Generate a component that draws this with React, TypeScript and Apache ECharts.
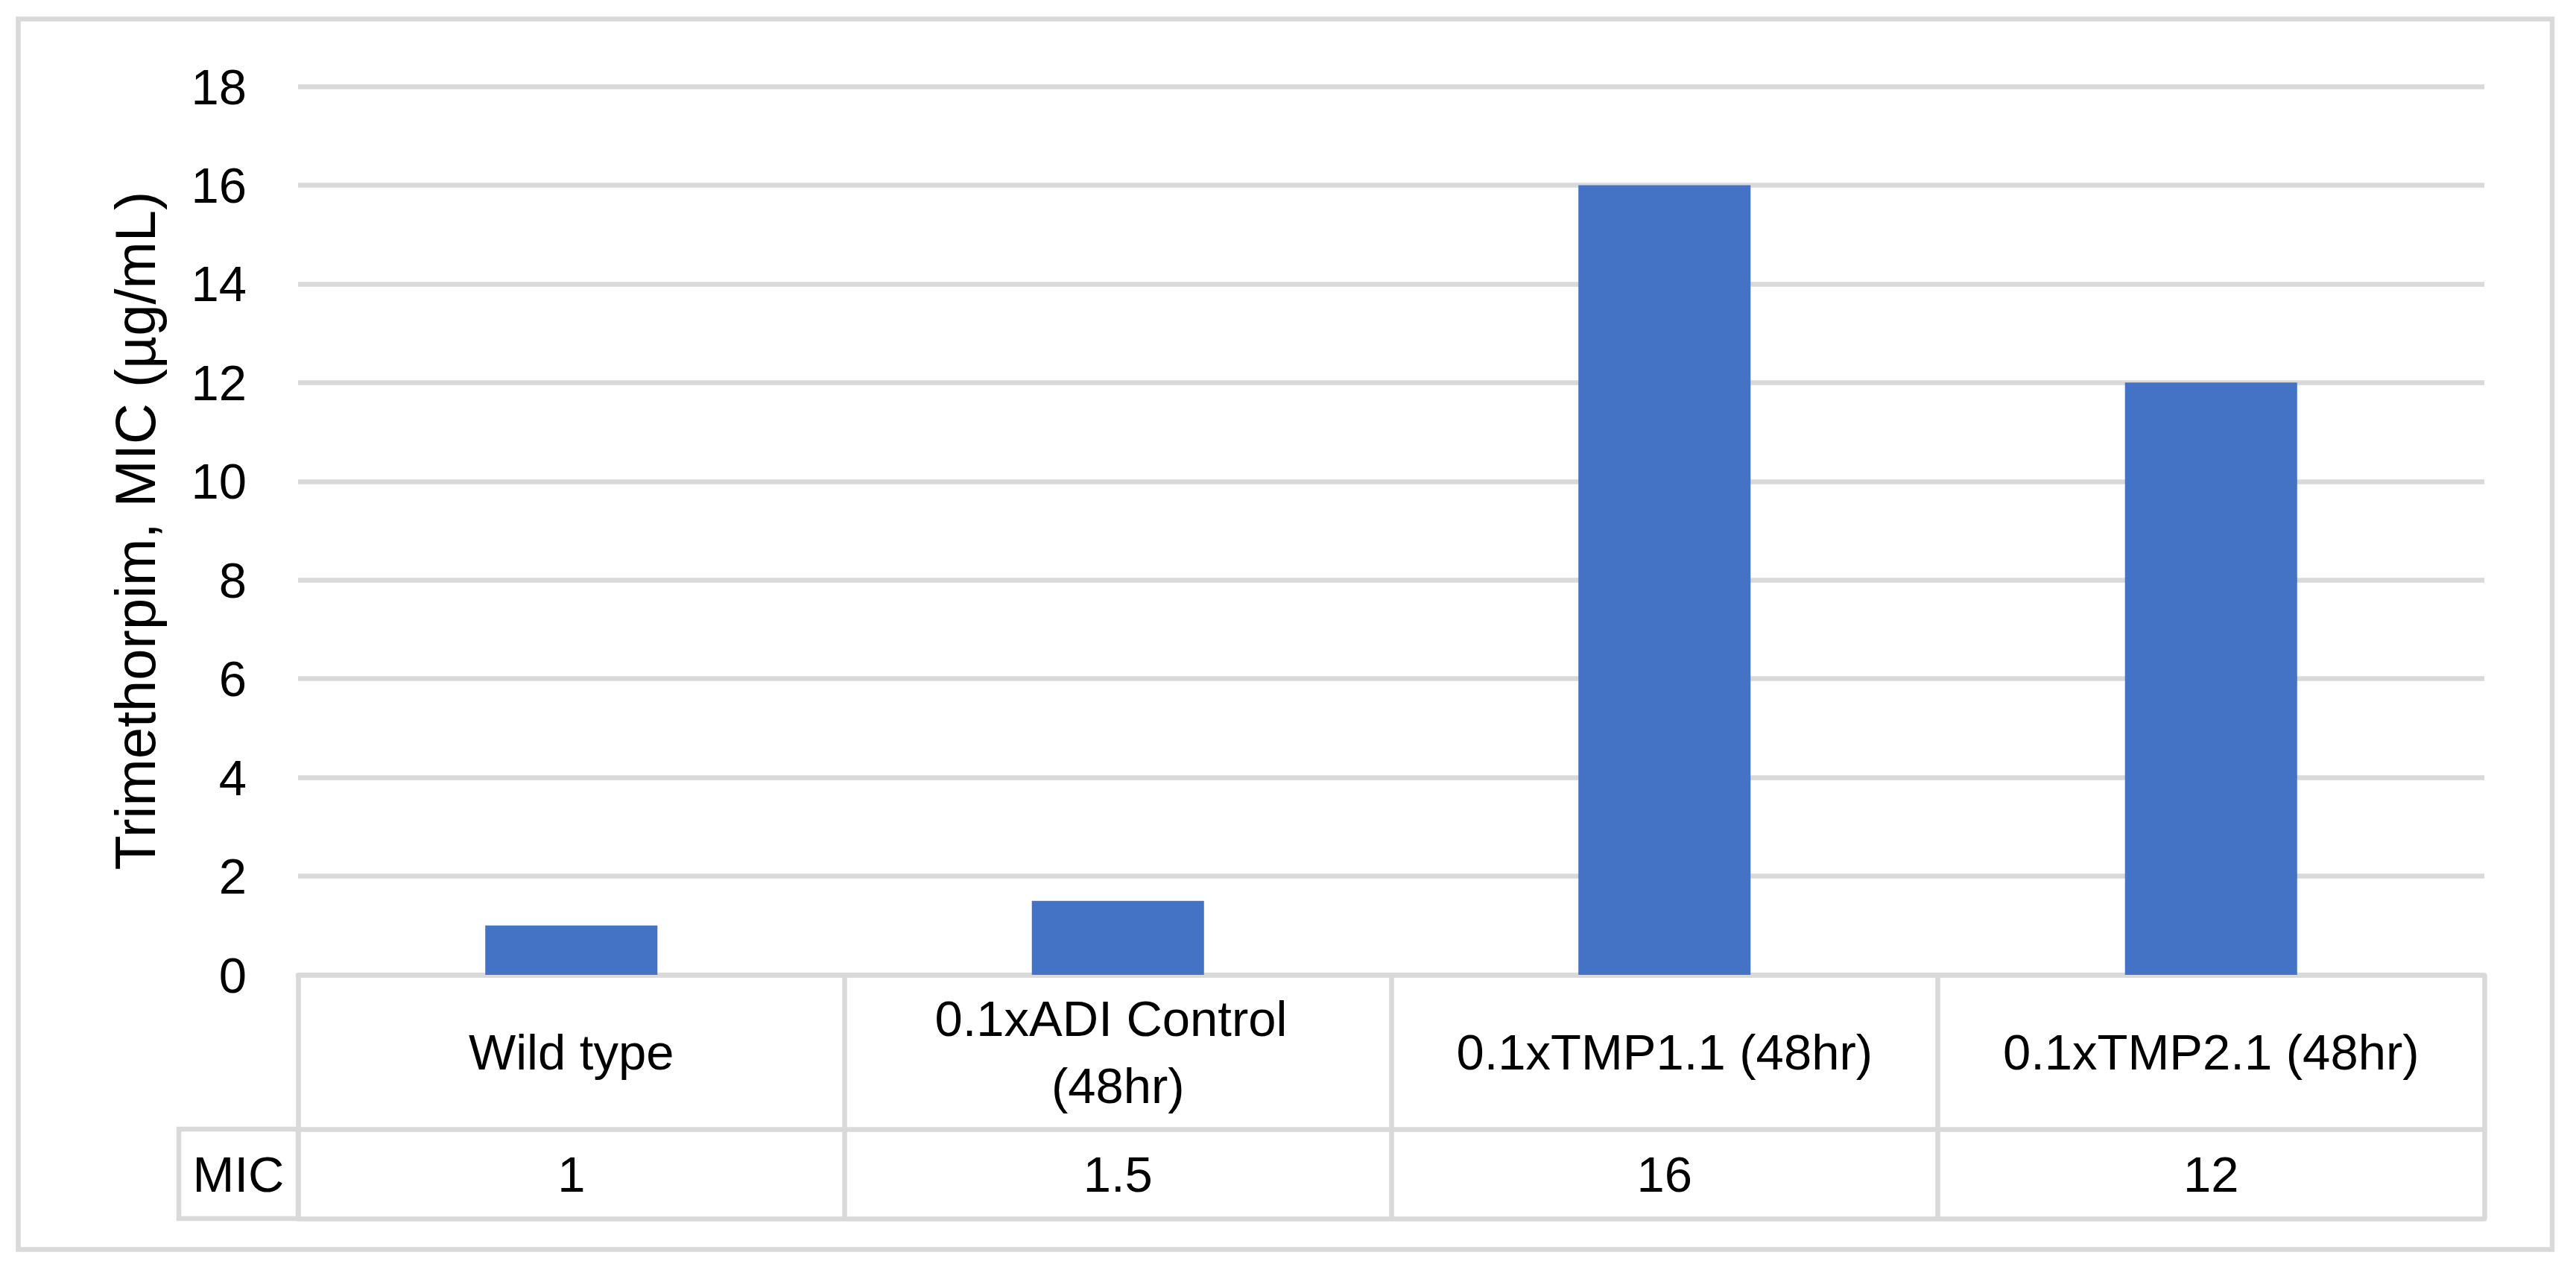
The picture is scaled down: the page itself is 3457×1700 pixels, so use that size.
import React, { useEffect, useRef } from "react";
import * as echarts from "echarts";

const categories = ["Wild type", "0.1xADI Control (48hr)", "0.1xTMP1.1 (48hr)", "0.1xTMP2.1 (48hr)"];
const micValues = [1, 1.5, 16, 12];
const yTicks = { min: 0, max: 18, interval: 2 };
const rowLabel = "MIC";
const yTitle = "Trimethorpim, MIC (µg/mL)";

const W = 3457;
const H = 1700;
const FONT = "'Liberation Sans', Arial, sans-serif";
const GRID = { left: 400, top: 116, right: 3334, bottom: 1308 };
const ROW1 = 207; // category row height
const ROW2 = 120; // MIC row height
const LINE = "#d9d9d9";
const LW = 6.5;

export default function App() {
  const ref = useRef<HTMLDivElement>(null);
  useEffect(() => {
    if (!ref.current) return;
    const chart = echarts.init(ref.current, null, { renderer: "svg" });
    const baseX = {
      type: "category",
      data: categories,
      gridIndex: 0,
      position: "bottom",
    };
    chart.setOption({
      animation: false,
      backgroundColor: "#ffffff",
      grid: {
        left: GRID.left,
        top: GRID.top,
        width: GRID.right - GRID.left,
        height: GRID.bottom - GRID.top,
        containLabel: false,
      },
      xAxis: [
        {
          ...baseX,
          axisLine: { show: true, onZero: false, lineStyle: { color: LINE, width: LW } },
          axisTick: { show: true, interval: 0, length: ROW1 + ROW2, lineStyle: { color: LINE, width: LW } },
          axisLabel: {
            interval: 0,
            margin: ROW1 / 2,
            verticalAlign: "middle",
            fontFamily: FONT,
            fontSize: 67,
            lineHeight: 90,
            color: "#000",
            width: 620,
            overflow: "break",
          },
          splitLine: { show: false },
        },
        {
          ...baseX,
          data: micValues.map((v) => String(v)),
          offset: ROW1,
          axisLine: { show: true, onZero: false, lineStyle: { color: LINE, width: LW } },
          axisTick: { show: false },
          axisLabel: {
            interval: 0,
            margin: ROW2 / 2,
            verticalAlign: "middle",
            fontFamily: FONT,
            fontSize: 67,
            color: "#000",
          },
        },
        {
          ...baseX,
          offset: ROW1 + ROW2,
          axisLine: { show: true, onZero: false, lineStyle: { color: LINE, width: LW } },
          axisTick: { show: false },
          axisLabel: { show: false },
        },
      ],
      yAxis: {
        type: "value",
        min: yTicks.min,
        max: yTicks.max,
        interval: yTicks.interval,
        name: yTitle,
        nameLocation: "middle",
        nameGap: 181,
        nameTextStyle: { fontFamily: FONT, fontSize: 76, color: "#000" },
        axisLine: { show: false },
        axisTick: { show: false },
        axisLabel: { margin: 69, fontFamily: FONT, fontSize: 67, color: "#000" },
        splitLine: { show: true, lineStyle: { color: LINE, width: LW } },
      },
      series: [
        {
          type: "bar",
          data: micValues,
          barWidth: "31.5%",
          itemStyle: { color: "#4472c4" },
          xAxisIndex: 0,
        },
      ],
      graphic: [
        {
          type: "rect",
          shape: { x: 24.5, y: 25.5, width: 3400.5, height: 1651 },
          style: { fill: "none", stroke: LINE, lineWidth: LW },
          silent: true,
        },
        {
          type: "rect",
          shape: { x: 240, y: GRID.bottom + ROW1, width: GRID.left - 240, height: ROW2 },
          style: { fill: "none", stroke: LINE, lineWidth: LW },
          silent: true,
        },
        {
          type: "text",
          x: (240 + GRID.left) / 2,
          y: GRID.bottom + ROW1 + ROW2 / 2,
          style: {
            text: rowLabel,
            fontFamily: FONT,
            fontSize: 67,
            fill: "#000",
            align: "center",
            verticalAlign: "middle",
          },
          silent: true,
        },
      ],
    });
    return () => chart.dispose();
  }, []);
  return (
    <div
      ref={ref}
      style={{ position: "fixed", left: 0, top: 0, width: W, height: H, background: "#fff" }}
    />
  );
}
